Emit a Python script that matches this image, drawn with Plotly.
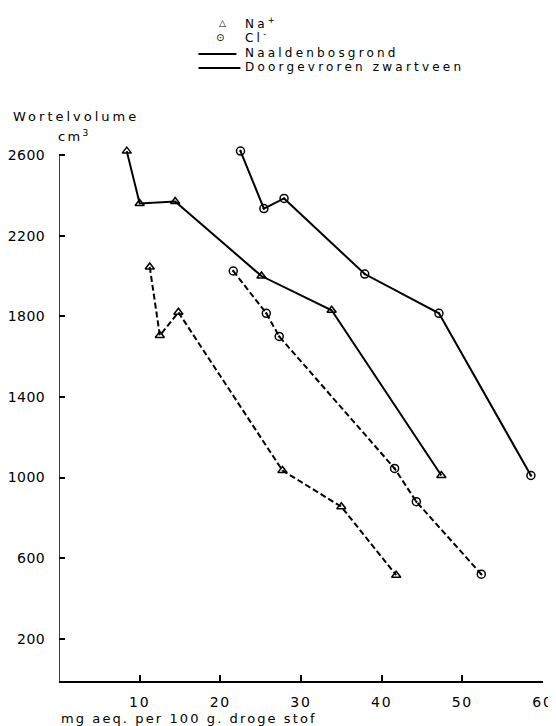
import plotly.graph_objects as go

# ---- data ----
na_naald_x = [8.4, 10.0, 14.4, 25.1, 33.8, 47.4]
na_naald_y = [2620, 2360, 2370, 2000, 1830, 1010]
cl_naald_x = [22.5, 25.4, 27.9, 37.9, 47.1, 58.5]
cl_naald_y = [2620, 2335, 2385, 2010, 1815, 1010]
na_doorg_x = [11.25, 12.5, 14.8, 27.7, 35.0, 41.8]
na_doorg_y = [2045, 1705, 1820, 1035, 855, 515]
cl_doorg_x = [21.6, 25.7, 27.3, 41.6, 44.3, 52.35]
cl_doorg_y = [2025, 1815, 1700, 1045, 880, 520]

x_tick_vals = [10, 20, 30, 40, 50, 60]
y_tick_vals = [200, 600, 1000, 1400, 1800, 2200, 2600]

FONT = "DejaVu Sans"


def sp(t, ls=1.8):
    return f'<span style="letter-spacing:{ls}px">{t}</span>'


x_tick_text = [sp(str(v), 1.8) for v in x_tick_vals]
y_tick_text = [sp(str(v), 0.4) for v in y_tick_vals]

fig = go.Figure()

tri = dict(symbol="triangle-up-open", size=8, color="black", line=dict(width=1.5, color="black"))
circ = dict(symbol="circle-open-dot", size=8, color="black", line=dict(width=1.5, color="black"))
solid = dict(color="black", width=2)
dashed = dict(color="black", width=2, dash="6px,3px")

fig.add_trace(go.Scatter(x=na_naald_x, y=na_naald_y, mode="lines+markers",
                         line=solid, marker=tri, name="Na+ Naaldenbosgrond"))
fig.add_trace(go.Scatter(x=cl_naald_x, y=cl_naald_y, mode="lines+markers",
                         line=solid, marker=circ, name="Cl- Naaldenbosgrond"))
fig.add_trace(go.Scatter(x=na_doorg_x, y=na_doorg_y, mode="lines+markers",
                         line=dashed, marker=tri, name="Na+ Doorgevroren zwartveen"))
fig.add_trace(go.Scatter(x=cl_doorg_x, y=cl_doorg_y, mode="lines+markers",
                         line=dashed, marker=circ, name="Cl- Doorgevroren zwartveen"))

# y axis line from 0 up to 2600
fig.add_shape(type="line", xref="x", yref="y", x0=0, x1=0, y0=-10, y1=2600,
              line=dict(color="black", width=1.5))

# page has an 8px body margin: figure is drawn 8px right/down
OFF = 8
FW, FH = 556 - OFF, 726 - OFF
L, T, B, R = 58.5, 134.9, 680.6, 542.7   # page coordinates of plot area
pw, ph = R - L, B - T


def px(xp):
    return (xp - L) / pw


def py(yp):
    return (B - yp) / ph


ann = []
ann.append(dict(text="△", x=px(222), y=py(23), font=dict(size=9)))
ann.append(dict(text="⊙", x=px(220), y=py(37), font=dict(size=10)))
for t, yy in [("Na<sup>+</sup>", 23), ("Cl<sup>-</sup>", 37), ("Naaldenbosgrond", 53), ("Doorgevroren zwartveen", 67)]:
    ann.append(dict(text=sp(t, 3.2), x=px(243), y=py(yy), xanchor="left", font=dict(size=12)))
for yy, x1 in [(54, 236), (68, 240)]:
    fig.add_shape(type="line", xref="paper", yref="paper", x0=px(198), x1=px(x1),
                  y0=py(yy), y1=py(yy), line=dict(color="black", width=2))

ann.append(dict(text=sp("Wortelvolume", 3), x=px(10), y=py(116), xanchor="left", font=dict(size=13)))
ann.append(dict(text=sp("cm<sup>3</sup>", 2.3), x=px(55), y=py(136), xanchor="left", font=dict(size=13)))
ann.append(dict(text=sp("mg aeq. per 100 g. droge stof", 2.1), x=px(59), y=py(718), xanchor="left", font=dict(size=13)))

for a in ann:
    a.setdefault("xanchor", "center")
    a.update(xref="paper", yref="paper", yanchor="middle", showarrow=False)
    a["font"] = dict(family=FONT, color="black", size=a["font"]["size"])
    fig.add_annotation(**a)

fig.update_layout(
    width=FW, height=FH,
    margin=dict(l=L - OFF, r=FW - (R - OFF), t=T - OFF, b=FH - (B - OFF), pad=0, autoexpand=False),
    plot_bgcolor="white", paper_bgcolor="white",
    showlegend=False,
    font=dict(family=FONT, color="black", size=13),
    xaxis=dict(range=[0, 60], tickvals=x_tick_vals, ticktext=x_tick_text,
               ticks="inside", ticklen=6, tickwidth=1.5, tickcolor="black",
               showline=True, linecolor="black", linewidth=1.5, automargin=False,
               showgrid=False, zeroline=False, ticklabelstandoff=7,
               tickfont=dict(family=FONT, size=14, color="black")),
    yaxis=dict(range=[-10, 2700], tickvals=y_tick_vals, ticktext=y_tick_text,
               ticks="inside", ticklen=6, tickwidth=1.5, tickcolor="black",
               showline=False, showgrid=False, zeroline=False, ticklabelstandoff=13,
               automargin=False,
               tickfont=dict(family=FONT, size=14, color="black")),
)

fig.write_html("out.html")
